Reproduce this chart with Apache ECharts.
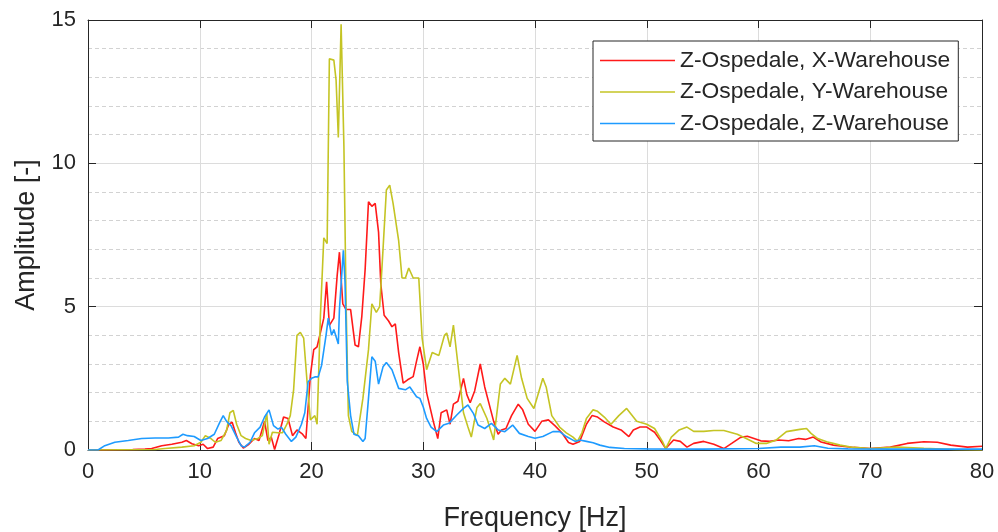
<!DOCTYPE html>
<html>
<head>
<meta charset="utf-8">
<script src="https://cdn.jsdelivr.net/npm/echarts@6/dist/echarts.min.js"></script>
<style>
html,body{margin:0;padding:0;background:#fff;}
#chart{width:998px;height:532px;}
</style>
</head>
<body>
<div id="chart"></div>
<script>
var seriesNames = ['Z-Ospedale, X-Warehouse', 'Z-Ospedale, Y-Warehouse', 'Z-Ospedale, Z-Warehouse'];
var xTicks = [0, 10, 20, 30, 40, 50, 60, 70, 80];
var yTicks = [0, 5, 10, 15];

var redFreq = [0,2,4,5.1,5.7,6.6,7.5,8.4,8.8,9.3,9.9,10.3,10.7,11.2,11.6,12.2,12.6,12.9,13.2,13.5,13.9,14.4,14.9,15.3,15.8,16.1,16.4,16.7,17.1,17.5,17.9,18.3,18.7,19.2,19.5,19.9,20.2,20.5,20.8,21.1,21.35,21.6,22.0,22.3,22.5,22.8,23.1,23.5,23.9,24.2,24.5,24.8,25.1,25.4,25.7,26.0,26.2,26.5,26.9,27.2,27.5,27.8,28.2,28.6,29.1,29.4,29.7,30.0,30.3,30.9,31.3,31.6,32.1,32.4,32.7,33.1,33.6,33.9,34.2,34.6,35.1,35.5,35.9,36.3,36.7,37.0,37.4,37.9,38.5,38.9,39.4,40.0,40.6,41.2,41.8,42.4,43.0,43.4,44.0,44.6,45.1,45.6,46.2,47.0,47.7,48.4,48.8,49.4,50.0,50.7,51.2,51.7,52.4,53.0,53.6,54.2,55.1,56.0,56.9,57.6,58.4,59.0,59.6,60.2,61.0,61.8,62.7,63.6,64.2,64.9,65.6,66.7,68.5,70,71.8,73.3,74.8,76,77.2,78.7,80];
var redAmp = [0,0.01,0.02,0.03,0.05,0.15,0.2,0.27,0.33,0.22,0.15,0.2,0.05,0.1,0.4,0.5,0.9,0.97,0.6,0.27,0.07,0.2,0.4,0.33,1.0,0.33,0.45,0.02,0.55,1.15,1.1,0.5,0.7,0.55,0.4,2.6,3.5,3.6,4.1,4.6,5.87,4.35,4.6,6.1,6.9,5.1,4.9,4.9,3.66,3.6,4.65,6.3,8.66,8.5,8.6,7.6,5.8,4.7,4.5,4.3,4.4,3.4,2.33,2.45,2.56,3.1,3.6,3.0,2.0,1.0,0.4,1.3,1.4,0.9,1.6,1.7,2.5,1.93,1.65,2.06,3.0,2.2,1.6,1.0,0.55,0.7,0.75,1.2,1.6,1.4,0.9,0.65,1.0,1.05,0.84,0.6,0.26,0.2,0.3,0.9,1.2,1.15,0.98,0.8,0.7,0.47,0.7,0.8,0.8,0.62,0.35,0.05,0.35,0.3,0.1,0.23,0.3,0.2,0.05,0.23,0.44,0.48,0.4,0.32,0.3,0.35,0.32,0.4,0.37,0.45,0.28,0.17,0.09,0.05,0.1,0.23,0.29,0.27,0.17,0.1,0.13];

var yelFreq = [0,3,6,6.9,8.4,9.5,10.1,10.5,11.0,11.4,11.9,12.4,12.7,13.0,13.3,13.7,14.1,14.6,15.2,15.6,16.0,16.2,16.5,17.0,17.4,17.8,18.1,18.4,18.7,19.0,19.3,19.6,19.9,20.3,20.5,20.8,21.1,21.4,21.6,22.0,22.2,22.4,22.65,22.9,23.1,23.3,23.6,24.1,24.6,25.1,25.4,25.8,26.1,26.4,26.7,27.0,27.3,27.8,28.1,28.4,28.7,29.1,29.6,29.9,30.3,30.8,31.4,31.9,32.1,32.4,32.7,33.1,33.6,34.0,34.3,34.8,35.1,35.7,36.3,36.9,37.3,37.8,38.4,38.8,39.3,39.9,40.7,41.0,41.5,42.2,42.8,43.4,43.8,44.2,44.6,45.2,45.6,46.2,46.8,47.5,48.2,49.1,50.0,50.7,51.4,51.7,52.2,52.9,53.6,54.2,55.1,56.0,56.9,58.1,58.9,59.8,60.7,61.6,62.5,63.7,64.3,64.7,65.3,66.1,67.3,68.5,70,72.4,74.8,77.5,80];
var yelAmp = [0,0.01,0.02,0.05,0.1,0.15,0.27,0.5,0.4,0.27,0.33,0.68,1.3,1.38,0.9,0.5,0.4,0.33,0.4,0.5,1.27,0.2,0.62,0.6,0.6,0.9,1.2,2.1,4.0,4.1,3.9,2.4,1.05,1.2,0.9,4.7,7.4,7.2,13.65,13.6,12.9,10.9,14.85,10.6,5.0,1.2,0.65,0.5,1.8,3.5,5.1,4.8,5.0,7.0,9.07,9.24,8.6,7.3,6.0,6.0,6.35,6.0,6.0,3.9,2.8,3.4,3.3,4.0,4.08,3.6,4.36,3.0,1.3,0.8,0.45,1.47,1.62,1.1,0.35,2.3,2.5,2.3,3.3,2.5,1.8,1.45,2.5,2.2,1.2,0.8,0.6,0.45,0.3,0.6,1.1,1.4,1.35,1.15,0.9,1.2,1.45,1.0,0.9,0.75,0.3,0.05,0.45,0.7,0.8,0.65,0.65,0.68,0.68,0.55,0.4,0.23,0.23,0.35,0.64,0.72,0.75,0.58,0.4,0.29,0.17,0.09,0.05,0.1,0.06,0.02,0];

var bluFreq = [0,0.9,1.5,2.4,3.6,4.8,6.0,7.2,8.1,8.5,8.9,9.5,10.1,10.7,11.3,11.8,12.1,12.4,12.8,13.3,13.7,14.0,14.5,14.9,15.4,15.8,16.2,16.6,17.0,17.3,17.7,18.2,18.6,19.1,19.4,19.7,20.0,20.3,20.6,20.9,21.3,21.5,21.8,22.0,22.4,22.5,22.85,23.0,23.2,23.5,23.8,24.2,24.6,24.8,25.1,25.4,25.7,26.0,26.4,26.7,27.2,27.8,28.4,28.8,29.4,29.7,30.0,30.3,30.7,31.2,31.8,32.3,33.0,33.6,34.0,34.5,34.9,35.5,36.1,36.7,37.3,38.0,38.6,39.4,40.0,40.7,41.6,42.2,42.8,43.6,44.0,44.6,45.2,45.8,46.7,48,50,55,60,62,63.7,65,66.2,68,72,80];
var bluAmp = [0,0,0.15,0.27,0.33,0.4,0.42,0.42,0.45,0.55,0.5,0.47,0.33,0.4,0.55,0.97,1.2,1.0,0.85,0.45,0.15,0.1,0.27,0.6,0.8,1.15,1.4,0.85,0.73,0.8,0.55,0.3,0.45,0.9,1.3,2.38,2.5,2.55,2.55,2.95,4.0,4.6,4.0,4.2,3.7,4.9,6.97,5.85,2.4,1.2,0.55,0.5,0.3,0.4,1.8,3.25,3.1,2.3,2.9,3.05,2.8,2.15,2.1,2.2,1.86,1.8,1.5,1.1,0.8,0.64,0.87,0.93,1.22,1.45,1.57,1.27,0.87,0.75,0.93,0.7,0.64,0.87,0.58,0.47,0.41,0.47,0.64,0.64,0.47,0.3,0.35,0.3,0.25,0.17,0.09,0.05,0.04,0.03,0.05,0.1,0.1,0.15,0.06,0.04,0.03,0.03];

var colors = ['#ff1a1a', '#c4c424', '#1e9bff'];

function zip(fx, ay) {
  var out = [];
  for (var i = 0; i < fx.length; i++) out.push([fx[i], ay[i]]);
  return out;
}

var fontFam = '"Liberation Sans", Arial, Helvetica, sans-serif';
var txt = '#262626';
var chart = echarts.init(document.getElementById('chart'), null, {renderer: 'canvas'});

var baseX = {
  type: 'value', min: xTicks[0], max: xTicks[xTicks.length - 1], interval: 10,
  axisLine: {show: true, onZero: false, lineStyle: {color: txt, width: 1}},
  axisTick: {show: true, inside: true, length: 8, lineStyle: {color: txt}}
};
var baseY = {
  type: 'value', min: yTicks[0], max: yTicks[yTicks.length - 1], interval: 5,
  axisLine: {show: true, onZero: false, lineStyle: {color: txt, width: 1}},
  axisTick: {show: true, inside: true, length: 8, lineStyle: {color: txt}}
};

chart.setOption({
  backgroundColor: '#ffffff',
  animation: false,
  color: colors,
  grid: {left: 88, right: 16, top: 20, bottom: 82, containLabel: false, outerBoundsMode: 'none'},
  legend: {
    orient: 'vertical',
    left: 593, top: 41,
    padding: [8, 8, 6, 7],
    itemGap: 8.5,
    icon: 'rect',
    itemWidth: 75, itemHeight: 1.6,
    backgroundColor: '#ffffff',
    borderColor: txt, borderWidth: 1,
    textStyle: {fontFamily: fontFam, fontSize: 22.8, color: txt},
    data: seriesNames
  },
  xAxis: [
    Object.assign({}, baseX, {
      position: 'bottom',
      name: 'Frequency [Hz]', nameLocation: 'middle', nameGap: 55,
      nameTextStyle: {fontFamily: fontFam, fontSize: 27, color: txt},
      axisLabel: {show: true, margin: 11, fontFamily: fontFam, fontSize: 22, color: txt},
      splitLine: {show: true, lineStyle: {color: '#dcdcdc', width: 1}}
    }),
    Object.assign({}, baseX, {
      position: 'top', axisLabel: {show: false}, splitLine: {show: false}
    })
  ],
  yAxis: [
    Object.assign({}, baseY, {
      position: 'left',
      name: 'Amplitude [-]', nameLocation: 'middle', nameGap: 48, nameRotate: 90,
      nameTextStyle: {fontFamily: fontFam, fontSize: 27, color: txt},
      axisLabel: {show: true, margin: 12, fontFamily: fontFam, fontSize: 22, color: txt},
      splitLine: {show: true, lineStyle: {color: '#dcdcdc', width: 1}},
      minorTick: {show: false, splitNumber: 5},
      minorSplitLine: {show: true, lineStyle: {color: '#d2d2d2', width: 1, type: [4, 3]}}
    }),
    Object.assign({}, baseY, {
      position: 'right', axisLabel: {show: false}, splitLine: {show: false}
    })
  ],
  series: [
    {name: seriesNames[0], type: 'line', data: zip(redFreq, redAmp), symbol: 'none', showSymbol: false,
     lineStyle: {width: 1.6, color: colors[0]}, itemStyle: {color: colors[0]}, z: 3},
    {name: seriesNames[1], type: 'line', data: zip(yelFreq, yelAmp), symbol: 'none', showSymbol: false,
     lineStyle: {width: 1.6, color: colors[1]}, itemStyle: {color: colors[1]}, z: 4},
    {name: seriesNames[2], type: 'line', data: zip(bluFreq, bluAmp), symbol: 'none', showSymbol: false,
     lineStyle: {width: 1.6, color: colors[2]}, itemStyle: {color: colors[2]}, z: 5}
  ]
});
</script>
</body>
</html>
